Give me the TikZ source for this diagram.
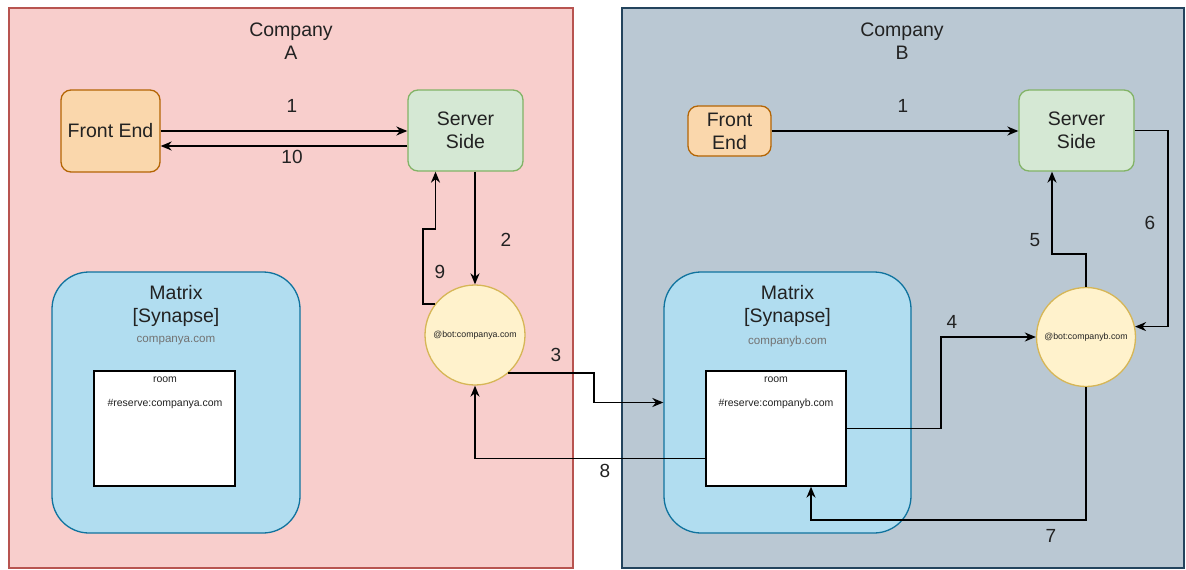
\documentclass[tikz,border=0pt]{standalone}
\usepackage{fontspec}
\setmainfont{Liberation Sans}
\usetikzlibrary{arrows.meta,positioning,calc}

\definecolor{compAfill}{HTML}{F8CECC}
\definecolor{compAline}{HTML}{B85450}
\definecolor{compBfill}{HTML}{BAC8D3}
\definecolor{compBline}{HTML}{23445D}
\definecolor{feFill}{HTML}{FAD7AC}
\definecolor{feLine}{HTML}{B46504}
\definecolor{ssFill}{HTML}{D5E8D4}
\definecolor{ssLine}{HTML}{82B366}
\definecolor{matFill}{HTML}{B1DDF0}
\definecolor{matLine}{HTML}{10739E}
\definecolor{botFill}{HTML}{FFF2CC}
\definecolor{botLine}{HTML}{D6B656}
\definecolor{txt}{HTML}{222222}

\tikzset{
  company/.style={draw, line width=1.3pt, inner sep=0pt},
  box/.style={draw, line width=1.3pt, rounded corners=10pt, inner sep=0pt,
    align=center, font=\fontsize{19.5}{23}\selectfont, text=txt},
  matrixbox/.style={draw, line width=1.3pt, rounded corners=37pt, inner sep=0pt,
    fill=matFill, draw=matLine},
  room/.style={draw=black, fill=white, line width=1.3pt, inner sep=0pt},
  bot/.style={circle, draw=botLine, fill=botFill, line width=1.3pt, inner sep=0pt,
    font=\fontsize{8.8}{10}\selectfont, text=txt},
  big/.style={align=center, font=\fontsize{19.5}{23}\selectfont, text=txt},
  tiny/.style={font=\fontsize{10.5}{12}\selectfont, text=txt},
  hostname/.style={font=\fontsize{11.6}{13}\selectfont, text=black!55},
  lbl/.style={font=\fontsize{19}{22}\selectfont, text=txt},
  arr/.style={line width=1.8pt, -{Stealth[length=11pt,width=9pt,inset=3.5pt]}}
}

\begin{document}
\begin{tikzpicture}[x=1pt,y=-1pt]

\useasboundingbox[fill=white] (0,0) rectangle (1186,570);

\node [company, fill=compAfill, draw=compAline, minimum width=564pt, minimum height=560pt] (compA) at (291,288) {};
\node [company, fill=compBfill, draw=compBline, minimum width=562pt, minimum height=560pt] (compB) at (903,288) {};
\node [big] (compAlbl) at (291,41) {Company\\A};
\node [big] (compBlbl) at (902,41) {Company\\B};

\node [box, fill=feFill, draw=feLine, minimum width=99pt, minimum height=82pt] (feA) at (110.5,131) {Front End};
\node [box, fill=ssFill, draw=ssLine, minimum width=115pt, minimum height=81pt] (ssA) at (465.5,130.5) {Server\\Side};
\node [box, fill=feFill, draw=feLine, minimum width=83pt, minimum height=50pt] (feB) at (729.5,131) {Front\\End};
\node [box, fill=ssFill, draw=ssLine, minimum width=115pt, minimum height=81pt] (ssB) at (1076.5,130.5) {Server\\Side};

\node [matrixbox, minimum width=248pt, minimum height=261pt] (matA) at (176,402.5) {};
\node [matrixbox, minimum width=247pt, minimum height=261pt] (matB) at (787.5,402.5) {};
\node [big] (matAlbl) at (176,305.5) {Matrix\\{[Synapse]}};
\node [big] (matBlbl) at (787.5,305.5) {Matrix\\{[Synapse]}};
\node [hostname] (matAdom) at (176,341) {companya.com};
\node [hostname] (matBdom) at (787.5,341) {companyb.com};

\node [room, minimum width=141pt, minimum height=115pt] (roomA) at (164.5,428.5) {};
\node [room, minimum width=140pt, minimum height=115pt] (roomB) at (776,428.5) {};
\node [tiny] (roomAlbl) at (165,380) {room};
\node [tiny] (roomArsv) at (165,404) {\#reserve:companya.com};
\node [tiny] (roomBlbl) at (776,380) {room};
\node [tiny] (roomBrsv) at (776,404) {\#reserve:companyb.com};

\node [bot, minimum size=100pt] (botA) at (475,335) {@bot:companya.com};
\node [bot, minimum size=99pt] (botB) at (1086,337) {@bot:companyb.com};

\coordinate (s10) at ([yshift=-15.5pt]ssA.west);

\draw [arr] (feA.east) -- (feA.east -| ssA.west);
\draw [arr] (s10) -- (s10 -| feA.east);
\draw [arr] (ssA.south -| botA.north) -- (botA.north);
\draw [arr] (botA.142) -- ++(-12,0) -- ++(0,-75) -| ([xshift=-30pt]ssA.south);
\draw [arr] (botA.-49) -- ++(86,0) |- (matB.west);
\draw [arr] ([yshift=-30pt]roomB.west) -| (botA.south);

\draw [arr] (feB.east) -- (feB.east -| ssB.west);
\draw [arr] (roomB.east) -- ++(94,0) |- (botB.west);
\draw [arr] (botB.north) -- ++(0,-33) -| ([xshift=-24.5pt]ssB.south);
\draw [arr] (ssB.east) -- ++(33,0) |- (botB.12);
\draw [arr] (botB.south) -- ++(0,133) -| ([xshift=35pt]roomB.south);

\node [lbl] (n1a) at (292,106) {1};
\node [lbl] (n10) at (292,157) {10};
\node [lbl] (n2) at (506,240) {2};
\node [lbl] (n9) at (440,272) {9};
\node [lbl] (n3) at (556,355) {3};
\node [lbl] (n8) at (605,471) {8};
\node [lbl] (n1b) at (903,106) {1};
\node [lbl] (n4) at (952,322) {4};
\node [lbl] (n5) at (1035,240) {5};
\node [lbl] (n6) at (1150,223) {6};
\node [lbl] (n7) at (1051,536) {7};

\end{tikzpicture}
\end{document}
